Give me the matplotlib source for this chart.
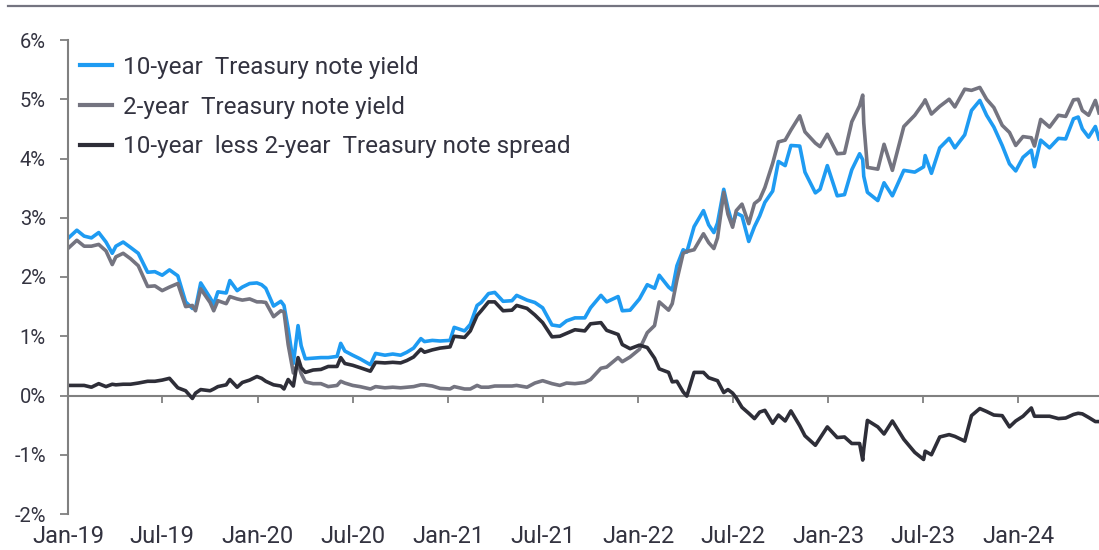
import matplotlib
matplotlib.use("Agg")
import matplotlib.pyplot as plt
from matplotlib.lines import Line2D
import numpy as np
import pandas as pd

plt.rcParams['font.family'] = ['Roboto', 'DejaVu Sans']

dates = [
    "2019-01-02", "2019-01-18", "2019-02-01", "2019-02-15", "2019-03-01", "2019-03-15", "2019-03-27",
    "2019-04-03", "2019-04-17", "2019-05-01", "2019-05-16", "2019-06-03", "2019-06-17", "2019-07-01",
    "2019-07-15", "2019-07-31", "2019-08-15", "2019-08-28", "2019-09-03", "2019-09-13", "2019-10-01",
    "2019-10-08", "2019-10-16", "2019-11-01", "2019-11-08", "2019-11-22", "2019-12-02", "2019-12-16",
    "2019-12-30", "2020-01-08", "2020-01-16", "2020-01-31", "2020-02-14", "2020-02-20", "2020-02-28",
    "2020-03-09", "2020-03-18", "2020-03-24", "2020-04-01", "2020-04-16", "2020-05-01", "2020-05-15",
    "2020-06-01", "2020-06-08", "2020-06-16", "2020-07-01", "2020-07-15", "2020-08-04", "2020-08-14",
    "2020-09-01", "2020-09-16", "2020-10-01", "2020-10-13", "2020-10-26", "2020-11-09", "2020-11-16",
    "2020-12-01", "2020-12-16", "2021-01-04", "2021-01-12", "2021-02-01", "2021-02-12", "2021-02-25",
    "2021-03-05", "2021-03-19", "2021-03-31", "2021-04-16", "2021-05-03", "2021-05-12", "2021-06-01",
    "2021-06-16", "2021-07-01", "2021-07-19", "2021-08-03", "2021-08-16", "2021-09-01", "2021-09-20",
    "2021-10-01", "2021-10-21", "2021-11-01", "2021-11-23", "2021-12-01", "2021-12-16", "2022-01-03",
    "2022-01-18", "2022-02-01", "2022-02-10", "2022-02-28", "2022-03-07", "2022-03-16", "2022-03-28",
    "2022-04-04", "2022-04-18", "2022-05-06", "2022-05-16", "2022-05-26", "2022-06-02", "2022-06-14",
    "2022-06-22", "2022-07-01", "2022-07-08", "2022-07-19", "2022-08-01", "2022-08-12", "2022-08-22",
    "2022-09-01", "2022-09-16", "2022-09-27", "2022-10-10", "2022-10-21", "2022-11-07", "2022-11-17",
    "2022-12-07", "2022-12-16", "2022-12-30", "2023-01-18", "2023-02-01", "2023-02-15", "2023-03-02",
    "2023-03-08", "2023-03-10", "2023-03-17", "2023-04-06", "2023-04-18", "2023-05-04", "2023-05-26",
    "2023-06-16", "2023-07-03", "2023-07-06", "2023-07-18", "2023-08-03", "2023-08-21", "2023-09-01",
    "2023-09-20", "2023-10-03", "2023-10-19", "2023-11-01", "2023-11-15", "2023-12-01", "2023-12-15",
    "2023-12-27", "2024-01-10", "2024-01-26", "2024-02-01", "2024-02-13", "2024-03-01", "2024-03-18",
    "2024-04-01", "2024-04-16", "2024-04-25", "2024-05-03", "2024-05-15", "2024-05-28", "2024-06-04",
]

ten_year = [
    2.66, 2.79, 2.69, 2.66, 2.75, 2.59, 2.40,
    2.52, 2.59, 2.50, 2.40, 2.08, 2.09, 2.03,
    2.12, 2.02, 1.58, 1.47, 1.47, 1.90, 1.65,
    1.54, 1.75, 1.73, 1.94, 1.77, 1.83, 1.89,
    1.90, 1.87, 1.81, 1.51, 1.59, 1.52, 1.13,
    0.54, 1.18, 0.84, 0.62, 0.63, 0.64, 0.64,
    0.66, 0.88, 0.75, 0.68, 0.62, 0.52, 0.71,
    0.68, 0.70, 0.68, 0.73, 0.80, 0.96, 0.91,
    0.93, 0.92, 0.93, 1.15, 1.09, 1.20, 1.52,
    1.57, 1.72, 1.74, 1.59, 1.60, 1.69, 1.61,
    1.57, 1.48, 1.19, 1.17, 1.26, 1.31, 1.31,
    1.48, 1.69, 1.58, 1.67, 1.43, 1.44, 1.63,
    1.87, 1.81, 2.03, 1.83, 1.78, 2.19, 2.46,
    2.42, 2.85, 3.12, 2.88, 2.75, 2.91, 3.48,
    3.16, 2.88, 3.08, 3.03, 2.60, 2.85, 3.03,
    3.26, 3.45, 3.95, 3.88, 4.22, 4.21, 3.77,
    3.42, 3.48, 3.88, 3.37, 3.39, 3.81, 4.08,
    3.98, 3.70, 3.43, 3.29, 3.59, 3.37, 3.80,
    3.77, 3.86, 4.05, 3.75, 4.18, 4.34, 4.18,
    4.40, 4.81, 4.98, 4.73, 4.53, 4.22, 3.91,
    3.79, 4.02, 4.14, 3.86, 4.31, 4.18, 4.34,
    4.33, 4.67, 4.70, 4.50, 4.36, 4.54, 4.33,
]

two_year = [
    2.49, 2.62, 2.52, 2.52, 2.55, 2.44, 2.21,
    2.34, 2.40, 2.31, 2.19, 1.84, 1.85, 1.77,
    1.83, 1.89, 1.50, 1.52, 1.43, 1.80, 1.57,
    1.43, 1.60, 1.55, 1.67, 1.63, 1.61, 1.63,
    1.58, 1.58, 1.57, 1.33, 1.43, 1.41, 0.86,
    0.38, 0.54, 0.37, 0.23, 0.20, 0.20, 0.15,
    0.17, 0.24, 0.21, 0.17, 0.15, 0.11, 0.15,
    0.13, 0.14, 0.13, 0.14, 0.15, 0.18, 0.18,
    0.16, 0.12, 0.11, 0.15, 0.11, 0.11, 0.17,
    0.14, 0.14, 0.16, 0.16, 0.16, 0.17, 0.14,
    0.21, 0.25, 0.20, 0.17, 0.21, 0.20, 0.22,
    0.27, 0.46, 0.48, 0.64, 0.57, 0.65, 0.78,
    1.06, 1.18, 1.58, 1.44, 1.55, 1.95, 2.40,
    2.43, 2.46, 2.73, 2.58, 2.48, 2.66, 3.43,
    3.06, 2.84, 3.12, 3.23, 2.90, 3.24, 3.31,
    3.51, 3.92, 4.28, 4.31, 4.48, 4.72, 4.45,
    4.26, 4.20, 4.41, 4.08, 4.09, 4.62, 4.89,
    5.07, 4.60, 3.85, 3.82, 4.24, 3.80, 4.54,
    4.73, 4.94, 4.99, 4.75, 4.88, 5.00, 4.87,
    5.17, 5.15, 5.20, 5.00, 4.86, 4.56, 4.44,
    4.22, 4.37, 4.35, 4.21, 4.66, 4.53, 4.73,
    4.71, 4.99, 5.00, 4.81, 4.73, 4.98, 4.77,
]

series_labels = [
    "10-year  Treasury note yield",
    "2-year  Treasury note yield",
    "10-year  less 2-year  Treasury note spread",
]
tick_dates = ["2019-01-01", "2019-07-01", "2020-01-01", "2020-07-01", "2021-01-01", "2021-07-01",
              "2022-01-01", "2022-07-01", "2023-01-01", "2023-07-01", "2024-01-01"]
tick_labels = ["Jan-19", "Jul-19", "Jan-20", "Jul-20", "Jan-21", "Jul-21",
               "Jan-22", "Jul-22", "Jan-23", "Jul-23", "Jan-24"]
y_ticks = [-2, -1, 0, 1, 2, 3, 4, 5, 6]

BLUE = "#1E9BF2"
GRAY = "#747480"
DARK = "#2E2E38"
TEXT = "#333340"
AXIS = "#808080"

d = pd.to_datetime(dates)
ten = np.array(ten_year)
two = np.array(two_year)
spread = ten - two

W, H = 1099, 550
y_top, y_bot, x_left = 40.0, 514.0, 68.0
fig = plt.figure(figsize=(W / 100, H / 100), dpi=100)
ax = fig.add_axes([x_left / W, 1 - y_bot / H, 1 - x_left / W, (y_bot - y_top) / H])

lw = 2.6
ax.plot(d, ten, color=BLUE, lw=lw, label=series_labels[0], solid_joinstyle='round')
ax.plot(d, two, color=GRAY, lw=lw, label=series_labels[1], solid_joinstyle='round')
ax.plot(d, spread, color=DARK, lw=lw, label=series_labels[2], solid_joinstyle='round')

ax.set_ylim(-2, 6)
ax.set_xlim(pd.Timestamp("2019-01-01"), pd.Timestamp("2024-06-04"))

ax.set_yticks(y_ticks)
ax.set_yticklabels([f"{v}%" for v in y_ticks])
td = pd.to_datetime(tick_dates)
ax.set_xticks(td)
ax.set_xticklabels(tick_labels)

for s in ["top", "right", "bottom"]:
    ax.spines[s].set_visible(False)
ax.spines["left"].set_color(AXIS)
ax.spines["left"].set_linewidth(1.5)

ax.tick_params(axis="y", direction="out", length=6, width=1.3, color=AXIS,
               labelsize=14.5, labelcolor=TEXT, pad=10)
ax.tick_params(axis="x", length=0, labelsize=17, labelcolor=TEXT, pad=8)

# zero line with its tick marks
ax.axhline(0, color=AXIS, lw=1.5, zorder=1)
ax.vlines(td, -0.135, 0, color=AXIS, lw=1.3, zorder=1)

leg = ax.legend(loc="upper left", bbox_to_anchor=((80 - x_left) / (W - x_left), (y_bot - 56) / (y_bot - y_top)),
                frameon=False, fontsize=17.5, handlelength=1.33, handletextpad=0.45,
                labelspacing=0.68, borderaxespad=0.0, borderpad=0.0)
for t in leg.get_texts():
    t.set_color(TEXT)
for h in leg.get_lines():
    h.set_linewidth(3.0)

# top rule
fig.add_artist(Line2D([8 / W, 1], [1 - 5.7 / H, 1 - 5.7 / H],
                      transform=fig.transFigure, color=GRAY, lw=1.6))

fig.savefig("out.png", dpi=100)
